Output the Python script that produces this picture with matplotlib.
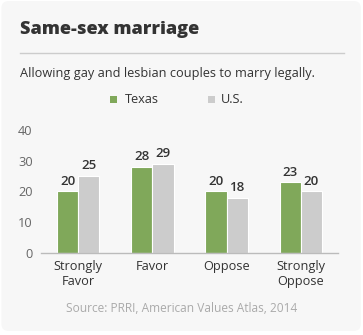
import matplotlib
matplotlib.use("Agg")
import matplotlib.pyplot as plt
from matplotlib.patches import FancyBboxPatch, Rectangle
import numpy as np

categories = ["Strongly\nFavor", "Favor", "Oppose", "Strongly\nOppose"]
texas = [20, 28, 20, 23]
us = [25, 29, 18, 20]
series_names = ["Texas", "U.S."]
yticks = [0, 10, 20, 30, 40]

GREEN = "#80a85a"
GRAY = "#cccccc"
DARK = "#333333"
FONT = "Open Sans"

plt.rcParams["font.family"] = [FONT, "DejaVu Sans"]

fig = plt.figure(figsize=(3.63, 3.35), dpi=100)
fig.patch.set_facecolor("white")
bg = FancyBboxPatch((0.004, 0.012), 0.99, 0.985,
                    boxstyle="round,pad=0,rounding_size=0.02",
                    transform=fig.transFigure, facecolor="#f7f7f7",
                    edgecolor="none", zorder=-10)
fig.patches.append(bg)

ax = fig.add_axes([0.113, 0.2457, 0.818, 0.366])
ax.set_facecolor("none")
ax.set_zorder(5)
x = np.arange(len(categories))
w = 0.285
b1 = ax.bar(x - w / 2, texas, w, color=GREEN, edgecolor="white", linewidth=0.8, zorder=2)
b2 = ax.bar(x + w / 2, us, w, color=GRAY, edgecolor="white", linewidth=0.8, zorder=2)
for bars, vals in ((b1, texas), (b2, us)):
    for r, v in zip(bars, vals):
        ax.text(r.get_x() + r.get_width() / 2, v + 1.2, str(v), ha="center", va="bottom",
                fontsize=9.5, color=DARK, fontweight="semibold")

ax.set_xlim(-0.5, len(categories) - 0.5)
ax.set_ylim(0, 40)
ax.set_yticks(yticks)
ax.set_yticklabels([str(t) for t in yticks], fontsize=9.2, color="#666666")
ax.set_xticks(x)
ax.set_xticklabels(categories, fontsize=9.2, color=DARK, linespacing=1.15)
ax.tick_params(axis="both", length=0)
ax.tick_params(axis="y", pad=6)
ax.tick_params(axis="x", pad=5.5)
for s in ("top", "right", "left"):
    ax.spines[s].set_visible(False)
ax.spines["bottom"].set_color("#bbbbbb")
ax.spines["bottom"].set_linewidth(1)

fig.text(20 / 363, 1 - 30 / 335, "Same-sex marriage", fontsize=13.1, fontweight="heavy",
         color=DARK, ha="left", va="center")
fig.add_artist(plt.Line2D([20 / 363, 344 / 363], [1 - 53 / 335] * 2,
                          color="#cccccc", linewidth=1, transform=fig.transFigure))
fig.text(20 / 363, 1 - 74 / 335, "Allowing gay and lesbian couples to marry legally.",
         fontsize=9.2, color=DARK, ha="left", va="center")

# legend
ly = 1 - 99 / 335
for px, tx, col, name in ((110, 125, GREEN, series_names[0]), (208, 221, GRAY, series_names[1])):
    fig.patches.append(Rectangle((px / 363, ly - 3.5 / 335), 7 / 363, 7 / 335,
                                 transform=fig.transFigure, facecolor=col,
                                 edgecolor="none"))
    fig.text(tx / 363, ly, name, fontsize=9.2, color=DARK, ha="left", va="center")

fig.text(182 / 363, 1 - 308 / 335, "Source: PRRI, American Values Atlas, 2014",
         fontsize=8.6, color="#aaaaaa", ha="center", va="center")

fig.savefig("out.png", dpi=100, facecolor=fig.get_facecolor())
